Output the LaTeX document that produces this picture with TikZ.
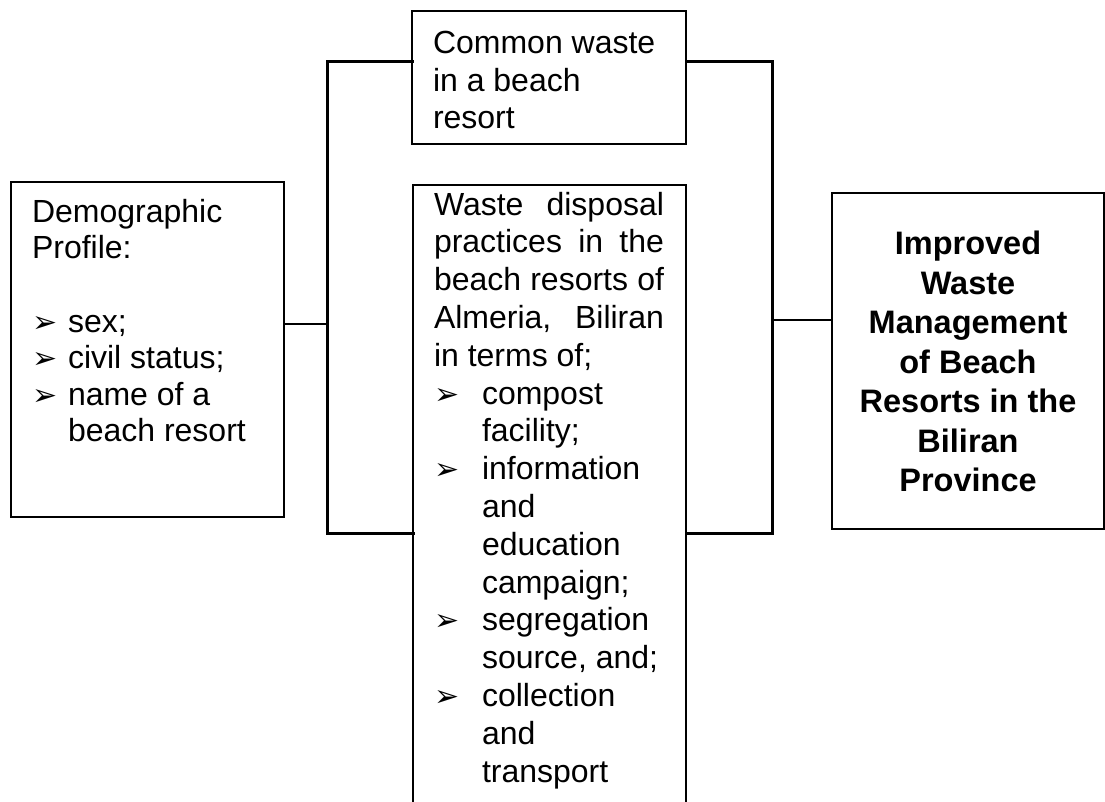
\documentclass[tikz,border=0pt]{standalone}
\usepackage{fontspec}
\setmainfont{Liberation Sans}
\newfontfamily\dejavu{DejaVu Sans}
\newcommand{\bul}{{\dejavu\fontsize{30}{30}\selectfont ➢}}
\begin{document}
\begin{tikzpicture}[x=1pt,y=1pt,
  box/.style={draw=black, line width=1.3pt, inner sep=0pt, outer sep=0pt},
  bracket/.style={line width=3pt, line join=miter, line cap=rect},
  link/.style={line width=1.7pt},
  txt/.style={inner sep=0pt, outer sep=0pt, anchor=base west, align=left},
  rtxt/.style={inner sep=0pt, outer sep=0pt, anchor=base, align=center,
    font=\fontsize{32.5}{39.5}\selectfont\bfseries}]
\useasboundingbox (0,0) rectangle (1105,801);
\clip (0,0) rectangle (1105,801);

% boxes
\node[box, minimum width=273pt, minimum height=335pt] (demo) at (147.5,451.5) {};
\node[box, minimum width=274pt, minimum height=133pt] (common) at (549,723.5) {};
\node[box, minimum width=273pt, minimum height=645pt] (waste) at (549.5,293.5) {};
\node[box, minimum width=272pt, minimum height=336pt] (result) at (968,440) {};

% bracket coordinates
\coordinate (LT) at (327,739);
\coordinate (LB) at (327,267);
\coordinate (LM) at (327,477);
\coordinate (RT) at (772,739);
\coordinate (RB) at (772,267);
\coordinate (RM) at (772,481);

\draw[bracket] (LT -| common.west) -- (LT) -- (LB) -- (LB -| waste.west);
\draw[bracket] (RT -| common.east) -- (RT) -- (RB) -- (RB -| waste.east);
\draw[link] (LM -| demo.east) -- (LM);
\draw[link] (RM) -- (RM -| result.west);

% texts (anchor = baseline of the last line)
\node[txt, font=\fontsize{32}{36.6}\selectfont] (demotxt) at (32,359)
  {Demographic\\Profile:\\[36.6pt]
   \makebox[36pt][l]{\bul}sex;\\
   \makebox[36pt][l]{\bul}civil status;\\
   \makebox[36pt][l]{\bul}name of a\\
   \hspace*{36pt}beach resort};

\node[txt, font=\fontsize{32}{37.6}\selectfont] (commontxt) at (433,672)
  {Common waste\\in a beach\\resort};

\node[txt, font=\fontsize{32}{37.8}\selectfont] (wastetxt) at (434,19)
  {\makebox[230pt][s]{Waste disposal}\\
   \makebox[230pt][s]{practices in the}\\
   \makebox[230pt][s]{beach resorts of}\\
   \makebox[230pt][s]{Almeria, Biliran}\\
   in terms of;\\
   \makebox[48pt][l]{\bul}compost\\
   \hspace*{48pt}facility;\\
   \makebox[48pt][l]{\bul}information\\
   \hspace*{48pt}and\\
   \hspace*{48pt}education\\
   \hspace*{48pt}campaign;\\
   \makebox[48pt][l]{\bul}segregation\\
   \hspace*{48pt}source, and;\\
   \makebox[48pt][l]{\bul}collection\\
   \hspace*{48pt}and\\
   \hspace*{48pt}transport};

\node[rtxt] (resulttxt) at (968,309)
  {Improved\\Waste\\Management\\of Beach\\Resorts in the\\Biliran\\Province};
\end{tikzpicture}
\end{document}
